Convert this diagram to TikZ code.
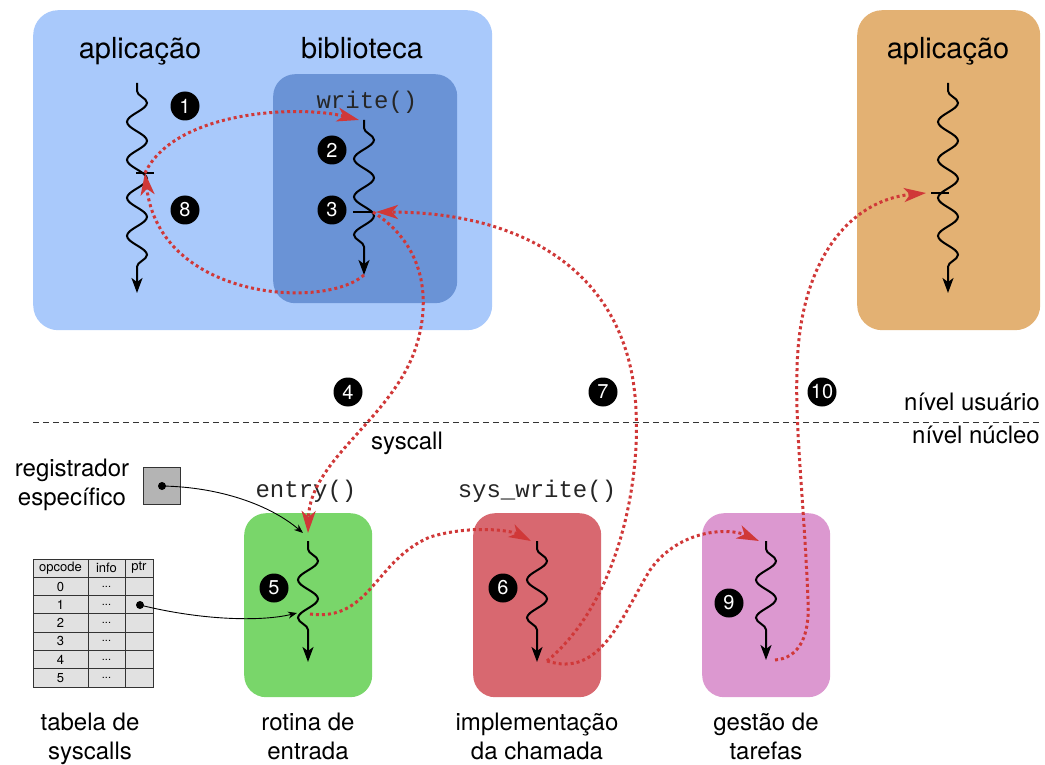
\documentclass[tikz,border=0pt]{standalone}
\usepackage{fontspec}
\setmainfont{TeX Gyre Heros}
\setmonofont{Liberation Mono}
\usetikzlibrary{arrows.meta}
\usetikzlibrary{decorations.pathmorphing}
\usetikzlibrary{positioning}
\definecolor{userblue}{RGB}{169,201,251}
\definecolor{libblue}{RGB}{106,147,214}
\definecolor{useramber}{RGB}{227,177,115}
\definecolor{entrygreen}{RGB}{121,214,106}
\definecolor{implred}{RGB}{216,104,112}
\definecolor{schedpink}{RGB}{220,152,208}
\definecolor{flowred}{RGB}{208,56,56}
\definecolor{cellgray}{RGB}{225,225,225}
\definecolor{reggray}{RGB}{180,180,180}
\tikzset{
    panel/.style={anchor=north west, rounded corners=#1, inner sep=0pt},
    title/.style={font=\fontsize{29}{34}\selectfont},
    lbl/.style={font=\fontsize{24}{29}\selectfont, inner sep=0pt},
    code/.style={font=\ttfamily\fontsize{24}{29}\selectfont, inner sep=0pt, text=black!85},
    num/.style={circle, fill=black, text=white, minimum size=29pt, inner sep=0pt,
        font=\fontsize{20}{20}\selectfont},
    thread/.style={line width=2pt, -{Stealth[length=15pt,width=11pt,inset=4pt]},
        decorate, decoration={snake, amplitude=10pt, segment length=38pt,
        pre length=8pt, post length=20pt}},
    tick/.style={line width=2pt},
    flow/.style={draw=flowred, line width=3pt, dash pattern=on 3pt off 3pt,
        -{Stealth[length=22pt,width=14pt,inset=6pt]}},
    ptrarrow/.style={line width=0.9pt, -{Stealth[length=9pt,width=7pt]}},
    dot/.style={circle, fill=black, inner sep=0pt, minimum size=8pt},
    cell/.style={font=\fontsize{13}{13}\selectfont, inner sep=0pt},
}
\begin{document}
\begin{tikzpicture}[x=1pt,y=-1pt]
\useasboundingbox (0,0) rectangle (1045,765);
% caixas
\node[panel=25pt, fill=userblue, minimum width=459pt, minimum height=320pt] (userbox) at (33,10) {};
\node[panel=22pt, fill=libblue, minimum width=184pt, minimum height=229pt] (libbox) at (273,74) {};
\node[panel=25pt, fill=useramber, minimum width=183pt, minimum height=320pt] (userbox2) at (857,10) {};
\node[panel=22pt, fill=entrygreen, minimum width=128pt, minimum height=184pt] (entrybox) at (244,513) {};
\node[panel=22pt, fill=implred, minimum width=128pt, minimum height=184pt] (implbox) at (473,513) {};
\node[panel=22pt, fill=schedpink, minimum width=128pt, minimum height=184pt] (schedbox) at (702,513) {};
% textos
\node[title, anchor=base] (t-app) at (140,59) {aplicação};
\node[title, anchor=base] (t-lib) at (362,59) {biblioteca};
\node[title, anchor=base] (t-app2) at (948,59) {aplicação};
\node[code, anchor=base] (t-write) at (367,109) {write()};
\node[code, anchor=base] (t-entry) at (306,497) {entry()};
\node[code, anchor=base] (t-sys) at (537,497) {sys\_write()};
\node[lbl, anchor=base] (t-syscall) at (407,449) {syscall};
\node[lbl, anchor=base east] (t-user) at (1040,410) {nível usuário};
\node[lbl, anchor=base east] (t-kernel) at (1040,443) {nível núcleo};
\node[lbl, anchor=north, align=center] (t-reg) at (72,459) {registrador\\específico};
\node[lbl, anchor=north, align=center] (t-tab) at (90,713) {tabela de\\syscalls};
\node[lbl, anchor=north, align=center] (t-entrada) at (308,713) {rotina de\\entrada};
\node[lbl, anchor=north, align=center] (t-impl) at (537,713) {implementação\\da chamada};
\node[lbl, anchor=north, align=center] (t-sched) at (766,713) {gestão de\\tarefas};
\draw[line width=1pt, dash pattern=on 6pt off 4pt, black!80] (33,422) -- (1040,422);
% threads
\coordinate (a-top) at (137,83);  \coordinate (a-end) at (137,293);  \coordinate (a-tick) at (145,173);
\coordinate (l-top) at (364,120); \coordinate (l-end) at (364,275);  \coordinate (l-tick) at (363,212);
\coordinate (b-top) at (948,83);  \coordinate (b-end) at (948,293);  \coordinate (b-tick) at (940,193);
\coordinate (e-top) at (308,541); \coordinate (e-end) at (308,662);
\coordinate (i-top) at (537,541); \coordinate (i-end) at (537,662);
\coordinate (s-top) at (766,541); \coordinate (s-end) at (766,660);
\draw[thread] (a-top) -- (a-end);
\draw[thread] (l-top) -- (l-end);
\draw[thread] (b-top) -- (b-end);
\draw[thread] (e-top) -- (e-end);
\draw[thread] (i-top) -- (i-end);
\draw[thread] (s-top) -- (s-end);
\draw[tick] ([xshift=-9pt]a-tick) -- ([xshift=9pt]a-tick);
\draw[tick] ([xshift=-10pt]l-tick) -- ([xshift=9pt]l-tick);
\draw[tick] ([xshift=-9pt]b-tick) -- ([xshift=9pt]b-tick);
% pontos de chegada/saida
\coordinate (l-in) at (359,120);  \coordinate (l-out) at (373,212); \coordinate (l-back) at (376,212);
\coordinate (e-in) at (308,533);  \coordinate (e-mid) at (310,614); \coordinate (e-call) at (297,613);
\coordinate (e-reg) at (303,533);
\coordinate (i-in) at (531,541);  \coordinate (i-out) at (547,661);
\coordinate (s-in) at (759,541);  \coordinate (s-out) at (775,660);
\coordinate (b-in) at (926,193);
% numeros
\node[num] (n1) at (185,106) {1};
\node[num] (n2) at (332,150) {2};
\node[num] (n3) at (332,210) {3};
\node[num] (n8) at (185,210) {8};
\node[num] (n4) at (348,392) {4};
\node[num] (n7) at (603,392) {7};
\node[num] (n10) at (822,392) {10};
\node[num] (n5) at (274,588) {5};
\node[num] (n6) at (503,588) {6};
\node[num] (n9) at (729,603) {9};
% registrador
\node[draw=black!80, line width=1.3pt, fill=reggray, minimum size=37pt, inner sep=0pt] (reg) at (162,486) {};
\node[dot] (regdot) at (162,486) {};
% tabela
\draw[line width=1pt, draw=black!80, fill=cellgray] (33,559) rectangle (153,687);
\foreach \i in {1,...,6}
    \draw[line width=1pt, black!80] (33,{559+\i*18.3}) -- (153,{559+\i*18.3});
\draw[line width=1pt, black!80] (88,559) -- (88,687) (125,559) -- (125,687);
\node[cell] (h-op) at (60.5,568) {opcode};
\node[cell] (h-info) at (106.5,568) {info};
\node[cell] (h-ptr) at (139,568) {ptr};
\foreach \i in {0,...,5} {
    \node[cell] (op\i) at (60.5,{586.5+\i*18.3}) {\i};
    \node[cell, font=\fontsize{11}{11}\selectfont] (inf\i) at (106.5,{586.5+\i*18.3}) {...};
}
\node[dot] (ptr1) at (140,605) {};
\draw[ptrarrow] (regdot.center) .. controls (220,487) and (270,505) .. (e-reg);
\draw[ptrarrow] (ptr1.center) .. controls (200,620) and (260,622) .. (e-call);
% fluxo
\draw[flow] (a-tick) .. controls (175,110) and (300,105) .. (l-in);
\draw[flow] (l-end) .. controls (325,310) and (160,300) .. (a-tick);
\draw[flow] (l-out) .. controls (425,245) and (432,300) .. (415,350)
    .. controls (390,420) and (310,460) .. (e-in);
\draw[flow] (e-mid) .. controls (370,622) and (375,560) .. (430,537)
    .. controls (470,525) and (510,530) .. (i-in);
\draw[flow] (i-out) .. controls (620,600) and (640,480) .. (636,410)
    .. controls (630,270) and (520,212) .. (l-back);
\draw[flow] (i-out) .. controls (600,678) and (620,620) .. (650,570)
    .. controls (680,528) and (730,528) .. (s-in);
\draw[flow] (s-out) .. controls (800,658) and (810,635) .. (808,600)
    .. controls (804,500) and (795,430) .. (797,370)
    .. controls (799,260) and (850,200) .. (b-in);
\end{tikzpicture}
\end{document}
